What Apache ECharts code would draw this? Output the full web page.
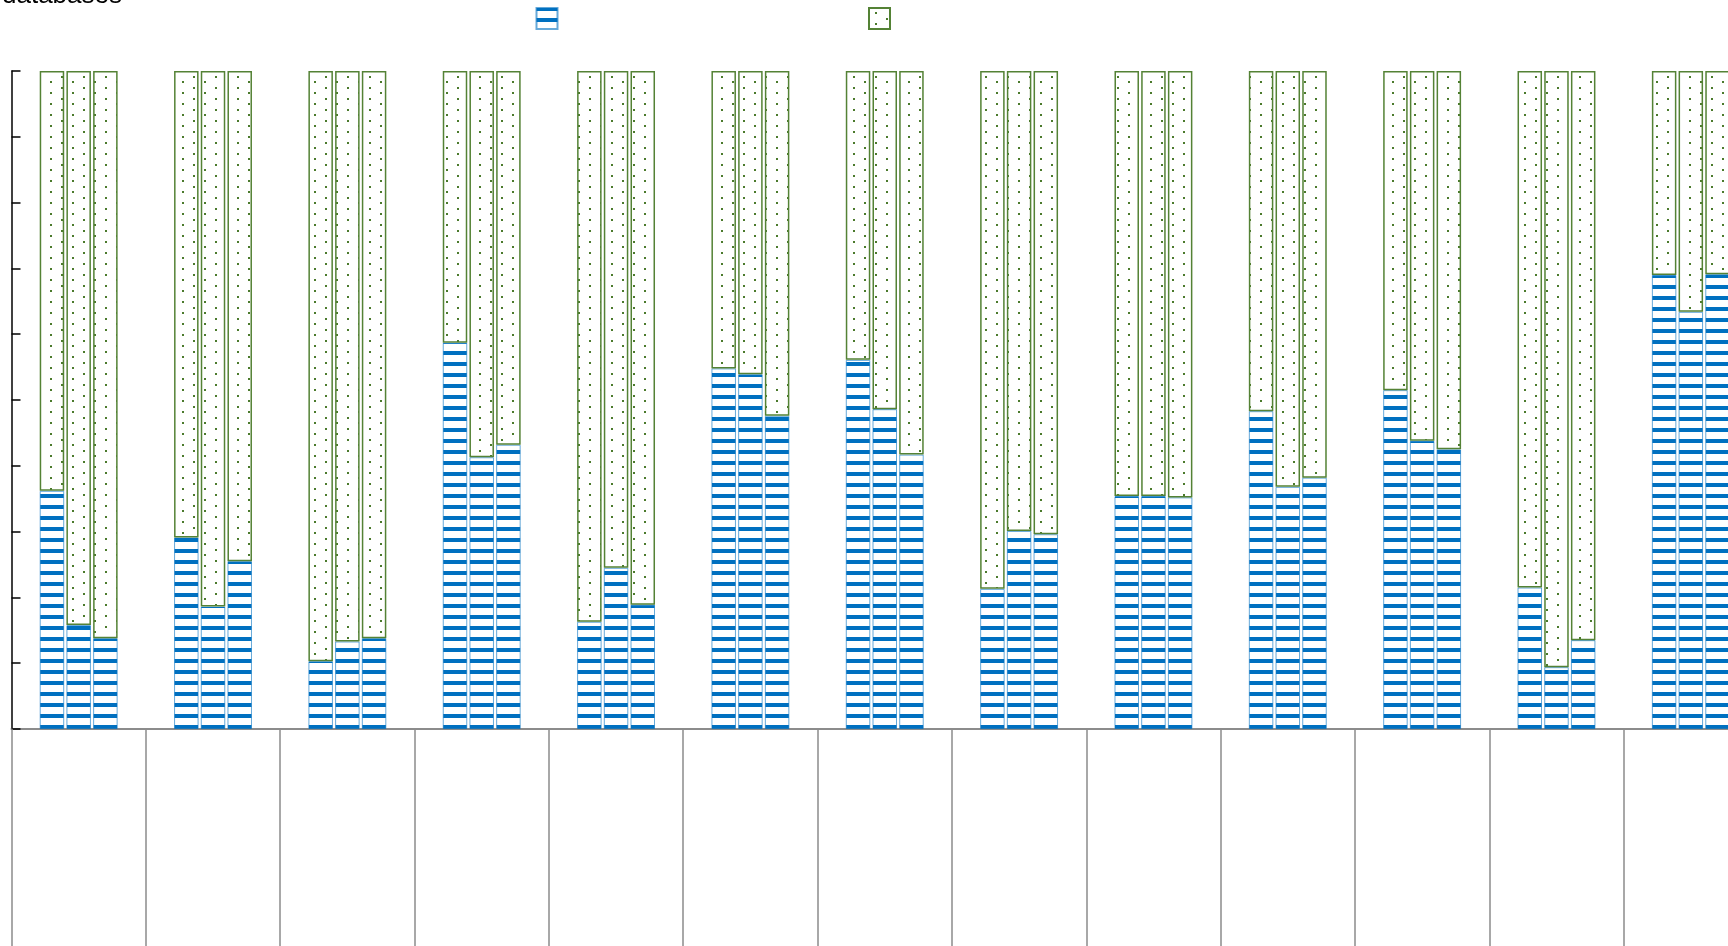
<!DOCTYPE html>
<html>
<head>
<meta charset="utf-8">
<script src="https://cdn.jsdelivr.net/npm/echarts@6/dist/echarts.min.js"></script>
<style>
  html, body { margin: 0; padding: 0; background: #fff; }
  #chart { width: 1728px; height: 946px; }
</style>
</head>
<body>
<div id="chart"></div>
<script>
// Groups along the x axis (labels are not shown)
const categories = ['1', '2', '3', '4', '5', '6', '7', '8', '9', '10', '11', '12', '13'];

// Lower (striped) share of each of the three bars per group, in percent
const lowerA = [36.2, 29.1, 10.3, 58.7, 16.3, 54.8, 56.1, 21.3, 35.4, 48.3, 51.5, 21.5, 69.0];
const lowerB = [15.8, 18.6, 13.3, 41.3, 24.5, 53.9, 48.6, 30.1, 35.4, 36.8, 43.8, 9.4, 63.4];
const lowerC = [13.8, 25.5, 13.8, 43.2, 18.9, 47.6, 41.7, 29.6, 35.2, 38.2, 42.5, 13.5, 69.1];

// Upper (dotted) share of each bar, in percent
const upperA = [63.8, 70.9, 89.7, 41.3, 83.7, 45.2, 43.9, 78.7, 64.6, 51.7, 48.5, 78.5, 31.0];
const upperB = [84.2, 81.4, 86.7, 58.7, 75.5, 46.1, 51.4, 69.9, 64.6, 63.2, 56.2, 90.6, 36.6];
const upperC = [86.2, 74.5, 86.2, 56.8, 81.1, 52.4, 58.3, 70.4, 64.8, 61.8, 57.5, 86.5, 30.9];

const BLUE = '#0070C0';
const GREEN = '#548235';
const DOT = '#4b7a2c';

// Horizontal stripe fill
function stripeTile() {
  const c = document.createElement('canvas');
  c.width = 8; c.height = 11;
  const g = c.getContext('2d');
  g.fillStyle = '#ffffff';
  g.fillRect(0, 0, 8, 11);
  g.fillStyle = BLUE;
  g.fillRect(0, 0, 8, 3);
  g.fillRect(0, 10, 8, 1);
  return c;
}

// Sparse dot fill
function dotTile() {
  const c = document.createElement('canvas');
  c.width = 22; c.height = 11;
  const g = c.getContext('2d');
  g.fillStyle = '#ffffff';
  g.fillRect(0, 0, 22, 11);
  g.fillStyle = DOT;
  g.fillRect(6, 4, 2, 2);
  g.fillRect(17, 10, 2, 1);
  g.fillRect(17, 0, 2, 1);
  return c;
}

const stripeFill = { image: stripeTile(), repeat: 'repeat' };
const dotFill = { image: dotTile(), repeat: 'repeat' };

const lowerStyle = { color: stripeFill, borderColor: 'rgba(0,112,192,0.6)', borderWidth: 1 };
const upperStyle = { color: dotFill, borderColor: GREEN, borderWidth: 1.5 };

function pair(stack, lower, upper) {
  return [
    { name: 'lower', type: 'bar', stack: stack, data: lower, barWidth: 24.5, barGap: '9%',
      itemStyle: lowerStyle, emphasis: { disabled: true }, animation: false },
    { name: 'upper', type: 'bar', stack: stack, data: upper, barWidth: 24.5, barGap: '9%',
      itemStyle: upperStyle, emphasis: { disabled: true }, animation: false }
  ];
}

const chart = echarts.init(document.getElementById('chart'), null, { renderer: 'canvas' });

chart.setOption({
  backgroundColor: '#ffffff',
  animation: false,
  title: {
    text: 'databases',
    left: -3,
    top: -22,
    textStyle: { fontFamily: 'Liberation Sans', fontSize: 26, fontWeight: 'normal', color: '#000' }
  },
  legend: [
    { data: ['lower'], left: 535.5, top: 7, padding: 0, itemWidth: 21, itemHeight: 21,
      icon: 'rect', formatter: () => '', selectedMode: false },
    { data: ['upper'], left: 868, top: 7, padding: 0, itemWidth: 21, itemHeight: 21,
      icon: 'rect', formatter: () => '', selectedMode: false }
  ],
  // The plot runs past the right edge of the page
  grid: {
    left: 11.5, width: 1746.5, top: 71, height: 658,
    containLabel: false, outerBoundsMode: 'none'
  },
  xAxis: {
    type: 'category',
    data: categories,
    axisLine: { lineStyle: { color: '#8c8c8c', width: 2 } },
    axisTick: { show: true, length: 220, lineStyle: { color: '#8c8c8c', width: 1.5 } },
    axisLabel: { show: false },
    splitLine: { show: false }
  },
  yAxis: {
    type: 'value',
    min: 0,
    max: 100,
    interval: 10,
    axisLine: { show: true, lineStyle: { color: '#000', width: 1.5 } },
    axisTick: { show: true, inside: true, length: 9, lineStyle: { color: '#000', width: 1.5 } },
    axisLabel: { show: false },
    splitLine: { show: false }
  },
  series: [
    ...pair('a', lowerA, upperA),
    ...pair('b', lowerB, upperB),
    ...pair('c', lowerC, upperC)
  ]
});
</script>
</body>
</html>
